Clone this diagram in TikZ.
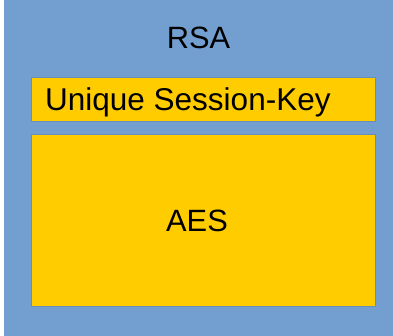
\documentclass[tikz,border=0pt]{standalone}
\usepackage{fontspec}
\setmainfont{Liberation Sans}
\definecolor{bgblue}{HTML}{729FCF}
\definecolor{boxyellow}{HTML}{FFCC00}
\definecolor{boxedge}{HTML}{6A8DBA}
\tikzset{
  lbl/.style={inner sep=0pt, anchor=base, font=\fontsize{30.8}{36}\selectfont, text=black},
  ybox/.style={fill=boxyellow, draw=boxedge, line width=0.8pt}
}
\begin{document}
\begin{tikzpicture}[x=1pt,y=-1pt]
\useasboundingbox (0,0) rectangle (393,336);
\fill[white] (0,0) rectangle (393,336);
\fill[bgblue] (4,0) rectangle (393,336);
\draw[ybox] (31,77) rectangle (375,121);
\draw[ybox] (31,134) rectangle (375,306);
\node[lbl] (rsa) at (198.5,49) {RSA};
\node[lbl, anchor=base west, font=\fontsize{31.5}{36}\selectfont] (key) at (45,111) {Unique Session-Key};
\node[lbl] (aes) at (197,231.7) {AES};
\end{tikzpicture}
\end{document}
